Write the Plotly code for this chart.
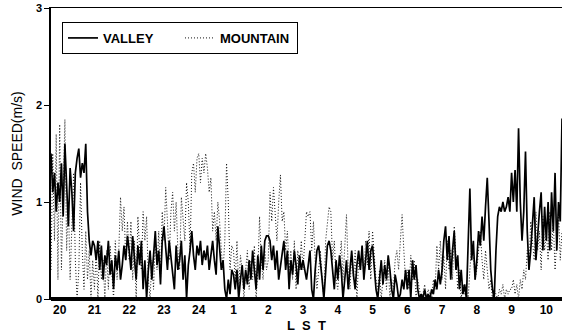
import plotly.graph_objects as go

# Time axis: local standard time in hours (24 -> "24", 25 -> "1", ...), 0.05 h resolution
t_start = 19.75
t_step = 0.05

# Wind speed (m/s), grouped by hour blocks
valley = (
    [1.5, 1.1, 1.3, 0.9, 1.2]                                                                   # 19.75-19.95
    + [1.0, 1.4, 0.85, 1.6, 1.25, 0.75, 1.35, 1.1, 0.7, 1.3, 1.45, 1.55, 1.25, 1.4, 1.3, 1.6, 0.9, 0.6, 0.45, 0.6]   # 20
    + [0.55, 0.4, 0.6, 0.3, 0.55, 0.2, 0.45, 0.35, 0.6, 0.25, 0.4, 0.1, 0.45, 0.3, 0.5, 0.2, 0.35, 0.55, 0.4, 0.65]  # 21
    + [0.5, 0.3, 0.65, 0.45, 0.2, 0.55, 0.35, 0.6, 0.1, 0.4, 0.0, 0.3, 0.5, 0.2, 0.45, 0.7, 0.35, 0.5, 0.15, 0.6]    # 22
    + [0.75, 0.5, 0.3, 0.6, 0.45, 0.25, 0.1, 0.55, 0.3, 0.4, 0.6, 0.2, 0.45, 0.0, 0.35, 0.5, 0.7, 0.45, 0.3, 0.55]  # 23
    + [0.45, 0.6, 0.35, 0.5, 0.4, 0.55, 0.3, 0.45, 0.6, 0.4, 0.25, 0.75, 0.5, 0.3, 0.4, 0.1, 0.0, 0.2, 0.05, 0.3]   # 24
    + [0.25, 0.1, 0.3, 0.0, 0.2, 0.35, 0.1, 0.3, 0.15, 0.4, 0.2, 0.5, 0.3, 0.1, 0.45, 0.2, 0.55, 0.3, 0.6, 0.65]    # 1
    + [0.65, 0.6, 0.4, 0.55, 0.3, 0.5, 0.2, 0.35, 0.45, 0.6, 0.3, 0.5, 0.1, 0.4, 0.25, 0.5, 0.35, 0.15, 0.45, 0.3]  # 2
    + [0.4, 0.3, 0.2, 0.35, 0.5, 0.1, 0.0, 0.3, 0.5, 0.55, 0.4, 0.2, 0.0, 0.35, 0.55, 0.6, 0.5, 0.3, 0.1, 0.4]      # 3
    + [0.2, 0.45, 0.3, 0.0, 0.2, 0.4, 0.1, 0.3, 0.5, 0.25, 0.1, 0.35, 0.5, 0.3, 0.55, 0.2, 0.45, 0.6, 0.3, 0.5]     # 4
    + [0.55, 0.3, 0.1, 0.0, 0.25, 0.4, 0.15, 0.35, 0.2, 0.45, 0.3, 0.1, 0.0, 0.25, 0.15, 0.0, 0.05, 0.2, 0.1, 0.3]  # 5
    + [0.1, 0.3, 0.0, 0.4, 0.2, 0.35, 0.1, 0.0, 0.05, 0.0, 0.1, 0.0, 0.05, 0.0, 0.1, 0.05, 0.2, 0.1, 0.3, 0.15]     # 6
    + [0.3, 0.6, 0.75, 0.4, 0.65, 0.2, 0.5, 0.7, 0.3, 0.45, 0.1, 0.3, 0.05, 0.15, 0.0, 0.6, 1.14, 0.4, 0.6, 0.2]    # 7
    + [0.4, 0.7, 0.55, 0.85, 0.6, 0.95, 1.25, 0.8, 0.3, 0.1, 0.0, 0.5, 0.85, 0.95, 0.9, 1.0, 0.9, 0.95, 1.05, 0.9]  # 8
    + [1.3, 1.0, 1.33, 0.9, 1.76, 1.0, 0.6, 0.9, 1.52, 0.7, 0.3, 0.5, 0.8, 1.05, 0.4, 0.7, 0.9, 1.1, 0.5, 0.95]     # 9
    + [0.6, 1.0, 0.5, 1.1, 0.7, 1.3, 0.5, 1.0, 0.8, 1.86]                                                          # 10-10.45
)

mountain = (
    [0.3, 1.5, 0.6, 1.7, 0.2]
    + [1.8, 0.3, 1.2, 1.85, 0.5, 1.0, 0.2, 0.9, 1.3, 0.4, 0.0, 0.3, 1.2, 0.5, 0.1, 0.7, 0.2, 0.5, 0.0, 0.4]
    + [0.1, 0.5, 0.0, 0.6, 0.2, 0.4, 0.0, 0.5, 0.1, 0.55, 0.3, 0.0, 0.6, 0.2, 0.5, 1.05, 0.7, 0.95, 0.4, 0.8]
    + [0.4, 0.8, 0.2, 0.6, 0.0, 0.85, 0.5, 0.3, 0.9, 0.6, 0.85, 0.2, 0.0, 0.4, 0.1, 0.6, 0.3, 0.7, 0.2, 0.9]
    + [0.6, 1.15, 0.8, 0.4, 0.9, 1.1, 0.7, 1.0, 0.5, 0.3, 1.05, 0.8, 0.6, 1.2, 1.0, 0.5, 1.3, 1.4, 1.1, 1.45]
    + [1.5, 1.2, 1.45, 1.3, 1.5, 1.35, 1.1, 1.25, 0.7, 0.9, 0.6, 1.0, 0.8, 0.5, 0.3, 0.6, 1.4, 1.0, 0.3, 0.55]
    + [0.5, 0.2, 0.6, 0.1, 0.45, 0.3, 0.0, 0.3, 0.5, 0.1, 0.4, 0.2, 0.55, 0.0, 0.3, 0.85, 0.4, 0.2, 0.5, 0.3]
    + [0.4, 1.1, 0.8, 1.15, 0.9, 0.6, 1.0, 1.28, 0.8, 0.9, 0.5, 0.7, 0.3, 0.5, 0.2, 0.6, 0.1, 0.5, 0.3, 0.6]
    + [0.3, 0.6, 0.9, 0.85, 0.9, 0.5, 0.8, 0.4, 0.1, 0.3, 0.5, 0.2, 0.0, 0.6, 0.8, 0.95, 0.9, 0.4, 0.6, 0.2]
    + [0.1, 0.4, 0.6, 0.2, 0.5, 0.87, 0.3, 0.1, 0.45, 0.2, 0.5, 0.0, 0.4, 0.3, 0.55, 0.2, 0.6, 0.35, 0.7, 0.2]
    + [0.7, 0.4, 0.2, 0.1, 0.3, 0.0, 0.2, 0.4, 0.1, 0.35, 0.0, 0.2, 0.1, 0.4, 0.5, 0.3, 0.6, 0.87, 0.5, 0.2]
    + [0.3, 0.1, 0.45, 0.2, 0.4, 0.0, 0.2, 0.1, 0.0, 0.05, 0.15, 0.0, 0.1, 0.05, 0.0, 0.2, 0.1, 0.55, 0.3, 0.6]
    + [0.2, 0.45, 0.1, 0.6, 0.3, 0.5, 0.2, 0.75, 0.4, 0.1, 0.3, 0.0, 0.15, 0.05, 0.1, 0.0, 0.3, 0.55, 0.45, 0.2]
    + [0.3, 0.5, 0.7, 0.4, 0.2, 0.5, 0.3, 0.1, 0.2, 0.0, 0.1, 0.05, 0.0, 0.1, 0.05, 0.15, 0.0, 0.1, 0.05, 0.1]
    + [0.1, 0.2, 0.05, 0.15, 0.0, 0.2, 0.1, 0.3, 0.2, 0.5, 0.3, 0.8, 0.6, 0.4, 0.9, 0.5, 0.7, 0.3, 0.85, 0.5]
    + [0.7, 0.4, 0.9, 0.5, 0.8, 0.3, 0.6, 0.9, 0.4, 0.7]
)

tick_hours = list(range(20, 35))
tick_labels = ["20", "21", "22", "23", "24", "1", "2", "3", "4", "5", "6", "7", "8", "9", "10"]

t = [t_start + i * t_step for i in range(len(valley))]

FONT = "Arial, Liberation Sans, sans-serif"

fig = go.Figure()
fig.add_trace(go.Scatter(
    x=t, y=mountain, mode="lines", name="MOUNTAIN",
    line=dict(color="#111111", width=1, dash="1px,2px"),
))
fig.add_trace(go.Scatter(
    x=t, y=valley, mode="lines", name="VALLEY",
    line=dict(color="black", width=1.7),
))

# thick base line at zero
fig.add_shape(type="line", xref="paper", x0=0, x1=1, yref="paper", y0=0, y1=0,
              line=dict(color="black", width=4), layer="above")

fig.update_layout(
    width=564, height=335,
    margin=dict(l=51, r=2, t=8, b=36),
    paper_bgcolor="white", plot_bgcolor="white",
    font=dict(family=FONT, size=11, color="black"),
    showlegend=True,
    legend=dict(
        orientation="h", traceorder="reversed",
        x=0.0215, y=0.952, xanchor="left", yanchor="top",
        bordercolor="black", borderwidth=1, bgcolor="white",
        font=dict(family=FONT, size=13, color="black", weight="bold"),
        itemwidth=30, entrywidth=72,
    ),
    xaxis=dict(
        range=[t_start, t_start + (len(valley) - 1) * t_step],
        tickvals=tick_hours, ticktext=tick_labels,
        ticks="", showgrid=False, zeroline=False,
        showline=True, linecolor="black", linewidth=1, mirror=True,
        tickfont=dict(family=FONT, size=12, color="black", weight="bold"),
        title=dict(text="L  S  T", font=dict(family=FONT, size=13, color="black", weight="bold"),
                   standoff=4),
    ),
    yaxis=dict(
        range=[0, 3], tickvals=[0, 1, 2, 3],
        ticks="outside", ticklen=5, tickcolor="black",
        showgrid=False, zeroline=False,
        showline=True, linecolor="black", linewidth=1.5,
        tickfont=dict(family=FONT, size=11, color="black", weight="bold"),
        title=dict(text="WIND  SPEED(m/s)", font=dict(family=FONT, size=14, color="black"),
                   standoff=10),
    ),
)

fig.write_html("out.html", config={"displayModeBar": False},
               post_script="document.body.style.margin='0px';")
